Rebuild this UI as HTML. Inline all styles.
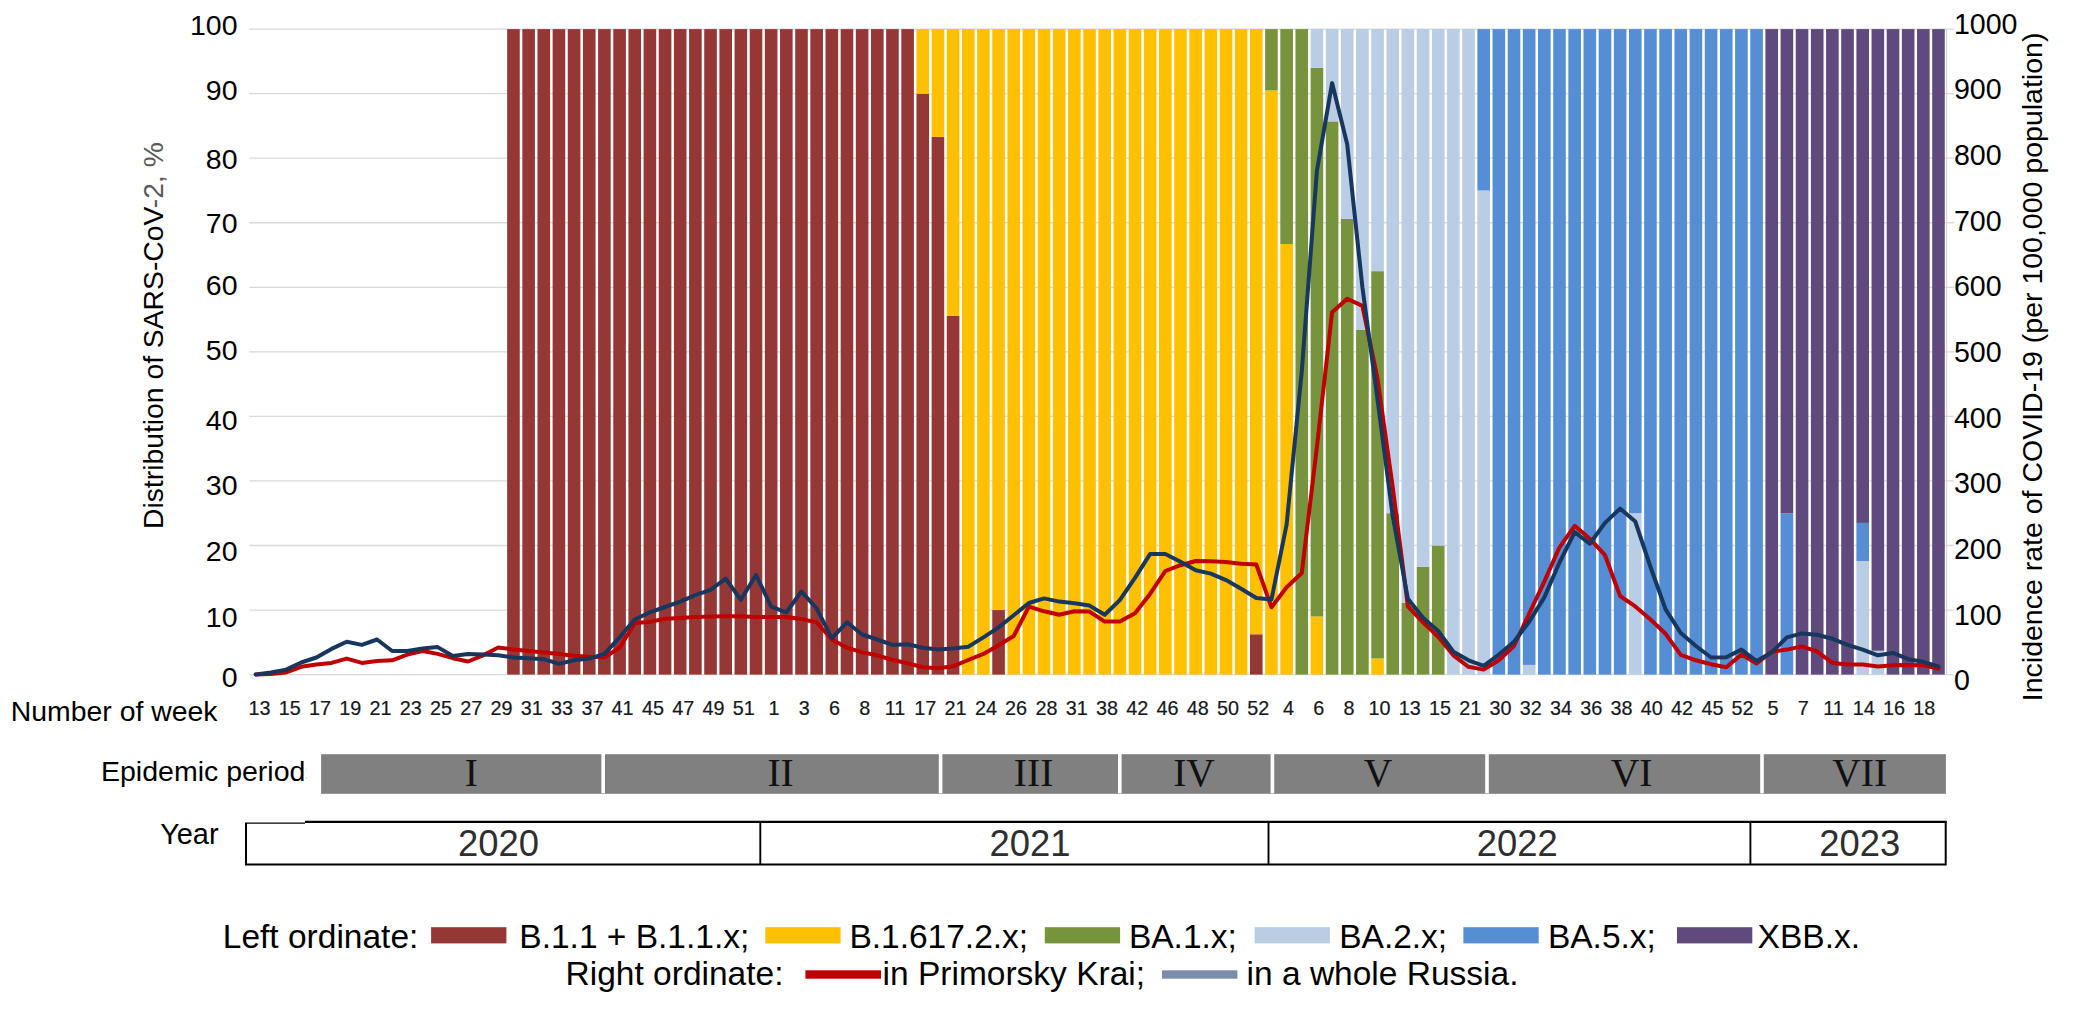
<!DOCTYPE html>
<html lang="en"><head><meta charset="utf-8"><title>Distribution of SARS-CoV-2 variants and COVID-19 incidence</title>
<style>
html,body{margin:0;padding:0;background:#fff;}
body{width:2093px;height:1023px;overflow:hidden;}
svg{display:block;}
text{font-family:"Liberation Sans",Arial,sans-serif;fill:#000;}
.ax{font-size:28px;}
.wk{font-size:19.8px;fill:#141820;stroke:#141820;stroke-width:0.2px;}
.yr{font-size:36.4px;fill:#2e2e2e;}
.rn{font-family:"Liberation Serif","Times New Roman",serif;font-size:39.5px;fill:#111;}
.lg{font-size:33.5px;}
</style></head><body>
<svg width="2093" height="1023" viewBox="0 0 2093 1023">
<rect width="2093" height="1023" fill="#fff"/>

<g stroke="#D9D9D9" stroke-width="1.3">
<line x1="249.3" y1="674.60" x2="1954" y2="674.60"/>
<line x1="249.3" y1="610.05" x2="1954" y2="610.05"/>
<line x1="249.3" y1="545.50" x2="1954" y2="545.50"/>
<line x1="249.3" y1="480.95" x2="1954" y2="480.95"/>
<line x1="249.3" y1="416.40" x2="1954" y2="416.40"/>
<line x1="249.3" y1="351.85" x2="1954" y2="351.85"/>
<line x1="249.3" y1="287.30" x2="1954" y2="287.30"/>
<line x1="249.3" y1="222.75" x2="1954" y2="222.75"/>
<line x1="249.3" y1="158.20" x2="1954" y2="158.20"/>
<line x1="249.3" y1="93.65" x2="1954" y2="93.65"/>
<line x1="249.3" y1="29.10" x2="1954" y2="29.10"/>
</g>
<defs><filter id="sf" x="0" y="0" width="100%" height="100%" filterUnits="userSpaceOnUse"><feGaussianBlur stdDeviation="0.45"/></filter></defs>
<g filter="url(#sf)">
<rect x="507.15" y="29.10" width="12.6" height="645.50" fill="#953735"/>
<rect x="522.31" y="29.10" width="12.6" height="645.50" fill="#953735"/>
<rect x="537.47" y="29.10" width="12.6" height="645.50" fill="#953735"/>
<rect x="552.63" y="29.10" width="12.6" height="645.50" fill="#953735"/>
<rect x="567.79" y="29.10" width="12.6" height="645.50" fill="#953735"/>
<rect x="582.95" y="29.10" width="12.6" height="645.50" fill="#953735"/>
<rect x="598.11" y="29.10" width="12.6" height="645.50" fill="#953735"/>
<rect x="613.27" y="29.10" width="12.6" height="645.50" fill="#953735"/>
<rect x="628.43" y="29.10" width="12.6" height="645.50" fill="#953735"/>
<rect x="643.59" y="29.10" width="12.6" height="645.50" fill="#953735"/>
<rect x="658.75" y="29.10" width="12.6" height="645.50" fill="#953735"/>
<rect x="673.91" y="29.10" width="12.6" height="645.50" fill="#953735"/>
<rect x="689.07" y="29.10" width="12.6" height="645.50" fill="#953735"/>
<rect x="704.23" y="29.10" width="12.6" height="645.50" fill="#953735"/>
<rect x="719.39" y="29.10" width="12.6" height="645.50" fill="#953735"/>
<rect x="734.55" y="29.10" width="12.6" height="645.50" fill="#953735"/>
<rect x="749.71" y="29.10" width="12.6" height="645.50" fill="#953735"/>
<rect x="764.87" y="29.10" width="12.6" height="645.50" fill="#953735"/>
<rect x="780.03" y="29.10" width="12.6" height="645.50" fill="#953735"/>
<rect x="795.19" y="29.10" width="12.6" height="645.50" fill="#953735"/>
<rect x="810.35" y="29.10" width="12.6" height="645.50" fill="#953735"/>
<rect x="825.51" y="29.10" width="12.6" height="645.50" fill="#953735"/>
<rect x="840.67" y="29.10" width="12.6" height="645.50" fill="#953735"/>
<rect x="855.83" y="29.10" width="12.6" height="645.50" fill="#953735"/>
<rect x="870.99" y="29.10" width="12.6" height="645.50" fill="#953735"/>
<rect x="886.15" y="29.10" width="12.6" height="645.50" fill="#953735"/>
<rect x="901.31" y="29.10" width="12.6" height="645.50" fill="#953735"/>
<rect x="916.47" y="93.65" width="12.6" height="580.95" fill="#953735"/>
<rect x="916.47" y="29.10" width="12.6" height="64.55" fill="#FFC000"/>
<rect x="931.63" y="136.90" width="12.6" height="537.70" fill="#953735"/>
<rect x="931.63" y="29.10" width="12.6" height="107.80" fill="#FFC000"/>
<rect x="946.79" y="315.70" width="12.6" height="358.90" fill="#953735"/>
<rect x="946.79" y="29.10" width="12.6" height="286.60" fill="#FFC000"/>
<rect x="961.95" y="29.10" width="12.6" height="645.50" fill="#FFC000"/>
<rect x="977.11" y="29.10" width="12.6" height="645.50" fill="#FFC000"/>
<rect x="992.27" y="610.05" width="12.6" height="64.55" fill="#953735"/>
<rect x="992.27" y="29.10" width="12.6" height="580.95" fill="#FFC000"/>
<rect x="1007.43" y="29.10" width="12.6" height="645.50" fill="#FFC000"/>
<rect x="1022.59" y="29.10" width="12.6" height="645.50" fill="#FFC000"/>
<rect x="1037.75" y="29.10" width="12.6" height="645.50" fill="#FFC000"/>
<rect x="1052.91" y="29.10" width="12.6" height="645.50" fill="#FFC000"/>
<rect x="1068.07" y="29.10" width="12.6" height="645.50" fill="#FFC000"/>
<rect x="1083.23" y="29.10" width="12.6" height="645.50" fill="#FFC000"/>
<rect x="1098.39" y="29.10" width="12.6" height="645.50" fill="#FFC000"/>
<rect x="1113.55" y="29.10" width="12.6" height="645.50" fill="#FFC000"/>
<rect x="1128.71" y="29.10" width="12.6" height="645.50" fill="#FFC000"/>
<rect x="1143.87" y="29.10" width="12.6" height="645.50" fill="#FFC000"/>
<rect x="1159.03" y="29.10" width="12.6" height="645.50" fill="#FFC000"/>
<rect x="1174.19" y="29.10" width="12.6" height="645.50" fill="#FFC000"/>
<rect x="1189.35" y="29.10" width="12.6" height="645.50" fill="#FFC000"/>
<rect x="1204.51" y="29.10" width="12.6" height="645.50" fill="#FFC000"/>
<rect x="1219.67" y="29.10" width="12.6" height="645.50" fill="#FFC000"/>
<rect x="1234.83" y="29.10" width="12.6" height="645.50" fill="#FFC000"/>
<rect x="1249.99" y="634.26" width="12.6" height="40.34" fill="#953735"/>
<rect x="1249.99" y="29.10" width="12.6" height="605.16" fill="#FFC000"/>
<rect x="1265.15" y="90.42" width="12.6" height="584.18" fill="#FFC000"/>
<rect x="1265.15" y="29.10" width="12.6" height="61.32" fill="#77933C"/>
<rect x="1280.31" y="244.05" width="12.6" height="430.55" fill="#FFC000"/>
<rect x="1280.31" y="29.10" width="12.6" height="214.95" fill="#77933C"/>
<rect x="1295.47" y="29.10" width="12.6" height="645.50" fill="#77933C"/>
<rect x="1310.63" y="616.50" width="12.6" height="58.10" fill="#FFC000"/>
<rect x="1310.63" y="67.83" width="12.6" height="548.67" fill="#77933C"/>
<rect x="1310.63" y="29.10" width="12.6" height="38.73" fill="#B9CDE5"/>
<rect x="1325.79" y="121.41" width="12.6" height="553.19" fill="#77933C"/>
<rect x="1325.79" y="29.10" width="12.6" height="92.31" fill="#B9CDE5"/>
<rect x="1340.95" y="218.88" width="12.6" height="455.72" fill="#77933C"/>
<rect x="1340.95" y="29.10" width="12.6" height="189.78" fill="#B9CDE5"/>
<rect x="1356.11" y="329.90" width="12.6" height="344.70" fill="#77933C"/>
<rect x="1356.11" y="29.10" width="12.6" height="300.80" fill="#B9CDE5"/>
<rect x="1371.27" y="658.46" width="12.6" height="16.14" fill="#FFC000"/>
<rect x="1371.27" y="271.16" width="12.6" height="387.30" fill="#77933C"/>
<rect x="1371.27" y="29.10" width="12.6" height="242.06" fill="#B9CDE5"/>
<rect x="1386.43" y="513.23" width="12.6" height="161.38" fill="#77933C"/>
<rect x="1386.43" y="29.10" width="12.6" height="484.12" fill="#B9CDE5"/>
<rect x="1401.59" y="602.95" width="12.6" height="71.65" fill="#77933C"/>
<rect x="1401.59" y="29.10" width="12.6" height="573.85" fill="#B9CDE5"/>
<rect x="1416.75" y="566.80" width="12.6" height="107.80" fill="#77933C"/>
<rect x="1416.75" y="29.10" width="12.6" height="537.70" fill="#B9CDE5"/>
<rect x="1431.91" y="545.50" width="12.6" height="129.10" fill="#77933C"/>
<rect x="1431.91" y="29.10" width="12.6" height="516.40" fill="#B9CDE5"/>
<rect x="1447.07" y="29.10" width="12.6" height="645.50" fill="#B9CDE5"/>
<rect x="1462.23" y="29.10" width="12.6" height="645.50" fill="#B9CDE5"/>
<rect x="1477.39" y="190.48" width="12.6" height="484.12" fill="#B9CDE5"/>
<rect x="1477.39" y="29.10" width="12.6" height="161.38" fill="#558ED5"/>
<rect x="1492.55" y="29.10" width="12.6" height="645.50" fill="#558ED5"/>
<rect x="1507.71" y="29.10" width="12.6" height="645.50" fill="#558ED5"/>
<rect x="1522.87" y="664.92" width="12.6" height="9.68" fill="#B9CDE5"/>
<rect x="1522.87" y="29.10" width="12.6" height="635.82" fill="#558ED5"/>
<rect x="1538.03" y="29.10" width="12.6" height="645.50" fill="#558ED5"/>
<rect x="1553.19" y="29.10" width="12.6" height="645.50" fill="#558ED5"/>
<rect x="1568.35" y="29.10" width="12.6" height="645.50" fill="#558ED5"/>
<rect x="1583.51" y="29.10" width="12.6" height="645.50" fill="#558ED5"/>
<rect x="1598.67" y="29.10" width="12.6" height="645.50" fill="#558ED5"/>
<rect x="1613.83" y="29.10" width="12.6" height="645.50" fill="#558ED5"/>
<rect x="1628.99" y="513.23" width="12.6" height="161.38" fill="#B9CDE5"/>
<rect x="1628.99" y="29.10" width="12.6" height="484.12" fill="#558ED5"/>
<rect x="1644.15" y="29.10" width="12.6" height="645.50" fill="#558ED5"/>
<rect x="1659.31" y="29.10" width="12.6" height="645.50" fill="#558ED5"/>
<rect x="1674.47" y="29.10" width="12.6" height="645.50" fill="#558ED5"/>
<rect x="1689.63" y="29.10" width="12.6" height="645.50" fill="#558ED5"/>
<rect x="1704.79" y="29.10" width="12.6" height="645.50" fill="#558ED5"/>
<rect x="1719.95" y="29.10" width="12.6" height="645.50" fill="#558ED5"/>
<rect x="1735.11" y="29.10" width="12.6" height="645.50" fill="#558ED5"/>
<rect x="1750.27" y="29.10" width="12.6" height="645.50" fill="#558ED5"/>
<rect x="1765.43" y="29.10" width="12.6" height="645.50" fill="#604A7B"/>
<rect x="1780.59" y="513.23" width="12.6" height="161.38" fill="#558ED5"/>
<rect x="1780.59" y="29.10" width="12.6" height="484.12" fill="#604A7B"/>
<rect x="1795.75" y="29.10" width="12.6" height="645.50" fill="#604A7B"/>
<rect x="1810.91" y="29.10" width="12.6" height="645.50" fill="#604A7B"/>
<rect x="1826.07" y="29.10" width="12.6" height="645.50" fill="#604A7B"/>
<rect x="1841.23" y="29.10" width="12.6" height="645.50" fill="#604A7B"/>
<rect x="1856.39" y="560.99" width="12.6" height="113.61" fill="#B9CDE5"/>
<rect x="1856.39" y="522.91" width="12.6" height="38.08" fill="#558ED5"/>
<rect x="1856.39" y="29.10" width="12.6" height="493.81" fill="#604A7B"/>
<rect x="1871.55" y="650.72" width="12.6" height="23.88" fill="#B9CDE5"/>
<rect x="1871.55" y="29.10" width="12.6" height="621.62" fill="#604A7B"/>
<rect x="1886.71" y="29.10" width="12.6" height="645.50" fill="#604A7B"/>
<rect x="1901.87" y="29.10" width="12.6" height="645.50" fill="#604A7B"/>
<rect x="1917.03" y="29.10" width="12.6" height="645.50" fill="#604A7B"/>
<rect x="1932.19" y="29.10" width="12.6" height="645.50" fill="#604A7B"/>
</g>
<line x1="1946.6" y1="29" x2="1946.6" y2="675" stroke="#D9D9D9" stroke-width="1.2"/>
<polyline points="255.7,674.4 270.9,673.9 286.1,672.5 301.2,666.8 316.4,664.6 331.5,662.9 346.7,658.6 361.9,662.9 377.0,661.0 392.2,660.3 407.3,654.6 422.5,651.0 437.7,653.9 452.8,658.2 468.0,661.5 483.1,655.3 498.3,647.4 513.5,649.6 528.6,651.0 543.8,652.4 558.9,653.9 574.1,655.7 589.2,656.7 604.4,657.2 619.6,647.7 634.7,623.1 649.9,621.9 665.0,618.8 680.2,618.0 695.4,616.9 710.5,616.6 725.7,616.3 740.9,616.3 756.0,616.9 771.2,617.0 786.3,617.0 801.5,619.1 816.6,622.3 831.8,639.5 847.0,647.7 862.1,652.4 877.3,655.3 892.5,660.0 907.6,663.2 922.8,667.2 937.9,668.2 953.1,666.3 968.2,660.0 983.4,653.9 998.6,645.3 1013.7,636.0 1028.9,606.6 1044.1,611.3 1059.2,614.8 1074.4,611.3 1089.5,611.6 1104.7,621.6 1119.8,621.6 1135.0,613.3 1150.2,593.7 1165.3,571.0 1180.5,565.2 1195.7,561.0 1210.8,561.2 1226.0,562.0 1241.1,563.8 1256.3,564.5 1271.5,607.3 1286.6,587.2 1301.8,573.0 1316.9,447.0 1332.1,312.3 1347.2,298.7 1362.4,305.9 1377.6,379.0 1392.7,487.0 1407.9,606.3 1423.0,622.4 1438.2,636.7 1453.4,655.3 1468.5,666.8 1483.7,669.6 1498.9,660.3 1514.0,646.0 1529.2,613.5 1544.3,581.6 1559.5,547.3 1574.7,525.8 1589.8,538.7 1605.0,555.2 1620.1,596.0 1635.3,606.4 1650.5,619.5 1665.6,633.8 1680.8,654.9 1695.9,660.3 1711.1,664.2 1726.2,667.2 1741.4,654.6 1756.6,663.5 1771.7,651.7 1786.9,649.6 1802.0,646.4 1817.2,651.7 1832.4,662.9 1847.5,664.6 1862.7,664.6 1877.9,666.5 1893.0,665.3 1908.2,664.9 1923.3,665.3 1938.5,668.6" fill="none" stroke="#C00000" stroke-width="4" stroke-linejoin="round" stroke-linecap="round"/>
<polyline points="255.7,674.4 270.9,672.5 286.1,669.6 301.2,662.5 316.4,657.5 331.5,648.9 346.7,641.7 361.9,644.9 377.0,639.5 392.2,651.0 407.3,651.0 422.5,648.6 437.7,647.1 452.8,656.0 468.0,653.9 483.1,654.6 498.3,655.3 513.5,657.5 528.6,658.2 543.8,659.2 558.9,663.9 574.1,660.3 589.2,658.6 604.4,653.9 619.6,637.4 634.7,619.5 649.9,612.3 665.0,607.0 680.2,601.6 695.4,595.1 710.5,589.8 725.7,578.6 740.9,599.8 756.0,575.0 771.2,606.6 786.3,612.3 801.5,591.5 816.6,608.4 831.8,638.1 847.0,622.3 862.1,634.5 877.3,639.5 892.5,644.9 907.6,644.3 922.8,647.7 937.9,649.6 953.1,648.4 968.2,646.7 983.4,637.4 998.6,627.4 1013.7,615.2 1028.9,603.0 1044.1,598.4 1059.2,601.6 1074.4,603.3 1089.5,605.6 1104.7,614.8 1119.8,600.1 1135.0,577.9 1150.2,553.9 1165.3,553.9 1180.5,561.8 1195.7,570.3 1210.8,573.6 1226.0,580.1 1241.1,588.7 1256.3,598.0 1271.5,599.4 1286.6,524.6 1301.8,371.0 1316.9,170.8 1332.1,83.1 1347.2,144.3 1362.4,287.2 1377.6,400.0 1392.7,516.0 1407.9,598.8 1423.0,617.8 1438.2,631.0 1453.4,651.7 1468.5,660.3 1483.7,665.8 1498.9,654.6 1514.0,641.7 1529.2,621.7 1544.3,597.4 1559.5,562.5 1574.7,532.2 1589.8,543.7 1605.0,522.9 1620.1,508.6 1635.3,521.5 1650.5,567.0 1665.6,609.4 1680.8,633.1 1695.9,646.0 1711.1,657.5 1726.2,657.2 1741.4,649.6 1756.6,661.0 1771.7,652.4 1786.9,637.4 1802.0,633.4 1817.2,634.8 1832.4,638.8 1847.5,644.9 1862.7,649.6 1877.9,655.3 1893.0,652.9 1908.2,659.2 1923.3,661.8 1938.5,666.3" fill="none" stroke="#17375E" stroke-width="4" stroke-linejoin="round" stroke-linecap="round"/>
<text class="ax" style="font-size:28.5px" x="237.5" y="34.8" text-anchor="end">100</text>
<text class="ax" style="font-size:28.5px" x="237.5" y="100.2" text-anchor="end">90</text>
<text class="ax" style="font-size:28.5px" x="237.5" y="169.1" text-anchor="end">80</text>
<text class="ax" style="font-size:28.5px" x="237.5" y="233.0" text-anchor="end">70</text>
<text class="ax" style="font-size:28.5px" x="237.5" y="295.1" text-anchor="end">60</text>
<text class="ax" style="font-size:28.5px" x="237.5" y="360.3" text-anchor="end">50</text>
<text class="ax" style="font-size:28.5px" x="237.5" y="430.4" text-anchor="end">40</text>
<text class="ax" style="font-size:28.5px" x="237.5" y="495.1" text-anchor="end">30</text>
<text class="ax" style="font-size:28.5px" x="237.5" y="560.8" text-anchor="end">20</text>
<text class="ax" style="font-size:28.5px" x="237.5" y="626.9" text-anchor="end">10</text>
<text class="ax" style="font-size:28.5px" x="237.5" y="687.1" text-anchor="end">0</text>
<text class="ax" style="font-size:28.6px" x="1953.9" y="33.6">1000</text>
<text class="ax" style="font-size:28.6px" x="1953.9" y="99.3">900</text>
<text class="ax" style="font-size:28.6px" x="1953.9" y="164.9">800</text>
<text class="ax" style="font-size:28.6px" x="1953.9" y="230.6">700</text>
<text class="ax" style="font-size:28.6px" x="1953.9" y="296.2">600</text>
<text class="ax" style="font-size:28.6px" x="1953.9" y="361.9">500</text>
<text class="ax" style="font-size:28.6px" x="1953.9" y="427.6">400</text>
<text class="ax" style="font-size:28.6px" x="1953.9" y="493.2">300</text>
<text class="ax" style="font-size:28.6px" x="1953.9" y="558.9">200</text>
<text class="ax" style="font-size:28.6px" x="1953.9" y="624.5">100</text>
<text class="ax" style="font-size:28.6px" x="1953.9" y="690.2">0</text>
<text class="ax" style="font-size:28.3px" transform="translate(162.7,529) rotate(-90)">Distribution of SARS-CoV<tspan fill="#595959">-2, %</tspan></text>
<text class="ax" style="font-size:28.5px" transform="translate(2041.7,701.2) rotate(-90)">Incidence rate of COVID-19 (per 100,000 population)</text>
<text class="wk" x="259.4" y="714.8" text-anchor="middle">13</text>
<text class="wk" x="289.7" y="714.8" text-anchor="middle">15</text>
<text class="wk" x="319.9" y="714.8" text-anchor="middle">17</text>
<text class="wk" x="350.2" y="714.8" text-anchor="middle">19</text>
<text class="wk" x="380.5" y="714.8" text-anchor="middle">21</text>
<text class="wk" x="410.8" y="714.8" text-anchor="middle">23</text>
<text class="wk" x="441.0" y="714.8" text-anchor="middle">25</text>
<text class="wk" x="471.3" y="714.8" text-anchor="middle">27</text>
<text class="wk" x="501.6" y="714.8" text-anchor="middle">29</text>
<text class="wk" x="531.8" y="714.8" text-anchor="middle">31</text>
<text class="wk" x="562.1" y="714.8" text-anchor="middle">33</text>
<text class="wk" x="592.4" y="714.8" text-anchor="middle">37</text>
<text class="wk" x="622.6" y="714.8" text-anchor="middle">41</text>
<text class="wk" x="652.9" y="714.8" text-anchor="middle">45</text>
<text class="wk" x="683.2" y="714.8" text-anchor="middle">47</text>
<text class="wk" x="713.5" y="714.8" text-anchor="middle">49</text>
<text class="wk" x="743.7" y="714.8" text-anchor="middle">51</text>
<text class="wk" x="774.0" y="714.8" text-anchor="middle">1</text>
<text class="wk" x="804.3" y="714.8" text-anchor="middle">3</text>
<text class="wk" x="834.5" y="714.8" text-anchor="middle">6</text>
<text class="wk" x="864.8" y="714.8" text-anchor="middle">8</text>
<text class="wk" x="895.1" y="714.8" text-anchor="middle">11</text>
<text class="wk" x="925.3" y="714.8" text-anchor="middle">17</text>
<text class="wk" x="955.6" y="714.8" text-anchor="middle">21</text>
<text class="wk" x="985.9" y="714.8" text-anchor="middle">24</text>
<text class="wk" x="1016.1" y="714.8" text-anchor="middle">26</text>
<text class="wk" x="1046.4" y="714.8" text-anchor="middle">28</text>
<text class="wk" x="1076.7" y="714.8" text-anchor="middle">31</text>
<text class="wk" x="1107.0" y="714.8" text-anchor="middle">38</text>
<text class="wk" x="1137.2" y="714.8" text-anchor="middle">42</text>
<text class="wk" x="1167.5" y="714.8" text-anchor="middle">46</text>
<text class="wk" x="1197.8" y="714.8" text-anchor="middle">48</text>
<text class="wk" x="1228.0" y="714.8" text-anchor="middle">50</text>
<text class="wk" x="1258.3" y="714.8" text-anchor="middle">52</text>
<text class="wk" x="1288.6" y="714.8" text-anchor="middle">4</text>
<text class="wk" x="1318.8" y="714.8" text-anchor="middle">6</text>
<text class="wk" x="1349.1" y="714.8" text-anchor="middle">8</text>
<text class="wk" x="1379.4" y="714.8" text-anchor="middle">10</text>
<text class="wk" x="1409.7" y="714.8" text-anchor="middle">13</text>
<text class="wk" x="1439.9" y="714.8" text-anchor="middle">15</text>
<text class="wk" x="1470.2" y="714.8" text-anchor="middle">21</text>
<text class="wk" x="1500.5" y="714.8" text-anchor="middle">30</text>
<text class="wk" x="1530.7" y="714.8" text-anchor="middle">32</text>
<text class="wk" x="1561.0" y="714.8" text-anchor="middle">34</text>
<text class="wk" x="1591.3" y="714.8" text-anchor="middle">36</text>
<text class="wk" x="1621.6" y="714.8" text-anchor="middle">38</text>
<text class="wk" x="1651.8" y="714.8" text-anchor="middle">40</text>
<text class="wk" x="1682.1" y="714.8" text-anchor="middle">42</text>
<text class="wk" x="1712.4" y="714.8" text-anchor="middle">45</text>
<text class="wk" x="1742.6" y="714.8" text-anchor="middle">52</text>
<text class="wk" x="1772.9" y="714.8" text-anchor="middle">5</text>
<text class="wk" x="1803.2" y="714.8" text-anchor="middle">7</text>
<text class="wk" x="1833.4" y="714.8" text-anchor="middle">11</text>
<text class="wk" x="1863.7" y="714.8" text-anchor="middle">14</text>
<text class="wk" x="1894.0" y="714.8" text-anchor="middle">16</text>
<text class="wk" x="1924.2" y="714.8" text-anchor="middle">18</text>
<text class="ax" style="font-size:28.4px" x="10.8" y="721.1">Number of week</text>
<clipPath id="cp"><rect x="90" y="750" width="216.3" height="45"/></clipPath>
<text class="ax" style="font-size:28.5px" x="101" y="781.2" clip-path="url(#cp)">Epidemic periods</text>
<rect x="321.1" y="754.2" width="1624.8" height="39.6" fill="#808080"/>
<rect x="601.4" y="754" width="3.6" height="39.3" fill="#fff"/>
<rect x="938.8" y="754" width="3.6" height="39.3" fill="#fff"/>
<rect x="1118.0" y="754" width="3.6" height="39.3" fill="#fff"/>
<rect x="1270.6" y="754" width="3.6" height="39.3" fill="#fff"/>
<rect x="1485.2" y="754" width="3.6" height="39.3" fill="#fff"/>
<rect x="1760.2" y="754" width="3.6" height="39.3" fill="#fff"/>
<text class="rn" x="471.3" y="786.3" text-anchor="middle">I</text>
<text class="rn" x="780.6" y="786.3" text-anchor="middle">II</text>
<text class="rn" x="1033.6" y="786.3" text-anchor="middle">III</text>
<text class="rn" x="1194" y="786.3" text-anchor="middle">IV</text>
<text class="rn" x="1378" y="786.3" text-anchor="middle">V</text>
<text class="rn" x="1631.5" y="786.3" text-anchor="middle">VI</text>
<text class="rn" x="1859.7" y="786.3" text-anchor="middle">VII</text>
<text class="ax" style="font-size:28.9px" x="160.2" y="843.8">Year</text>
<path d="M246 823 V864.4 H1945.7 V821.8" fill="none" stroke="#000" stroke-width="2"/>
<line x1="245" y1="823.2" x2="305" y2="823.2" stroke="#000" stroke-width="1.3"/>
<line x1="305" y1="821.9" x2="1946.7" y2="821.9" stroke="#000" stroke-width="2.1"/>
<line x1="760.3" y1="822" x2="760.3" y2="865" stroke="#000" stroke-width="1.9"/>
<line x1="1268.5" y1="822" x2="1268.5" y2="865" stroke="#000" stroke-width="1.9"/>
<line x1="1750.4" y1="822" x2="1750.4" y2="865" stroke="#000" stroke-width="1.9"/>
<text class="yr" x="498.6" y="855.5" text-anchor="middle">2020</text>
<text class="yr" x="1030" y="855.5" text-anchor="middle">2021</text>
<text class="yr" x="1517.2" y="855.5" text-anchor="middle">2022</text>
<text class="yr" x="1859.7" y="855.5" text-anchor="middle">2023</text>
<rect x="431.1" y="927.2" width="75.3" height="16.2" fill="#953735"/>
<rect x="765.3" y="927.2" width="75.3" height="16.2" fill="#FFC000"/>
<rect x="1044.8" y="927.2" width="75.3" height="16.2" fill="#77933C"/>
<rect x="1254.6" y="927.2" width="75.3" height="16.2" fill="#B9CDE5"/>
<rect x="1463.4" y="927.2" width="75.3" height="16.2" fill="#558ED5"/>
<rect x="1677" y="927.2" width="75.3" height="16.2" fill="#604A7B"/>
<text class="lg" x="222.8" y="947.8">Left ordinate:</text>
<text class="lg" x="519.3" y="947.8">B.1.1 + B.1.1.x;</text>
<text class="lg" x="849.4" y="947.8">B.1.617.2.x;</text>
<text class="lg" x="1128.9" y="947.8">BA.1.x;</text>
<text class="lg" x="1339.2" y="947.8">BA.2.x;</text>
<text class="lg" x="1547.9" y="947.8">BA.5.x;</text>
<text class="lg" x="1757.6" y="947.8">XBB.x.</text>
<text class="lg" x="565.6" y="984.8">Right ordinate:</text>
<rect x="805.4" y="970.3" width="75.6" height="8.4" fill="#C00000"/>
<text class="lg" x="882.6" y="984.8">in Primorsky Krai;</text>
<rect x="1162" y="970.3" width="75.4" height="8.4" fill="#7B8DA8"/>
<text class="lg" x="1246.6" y="984.8">in a whole Russia.</text>
</svg></body></html>
